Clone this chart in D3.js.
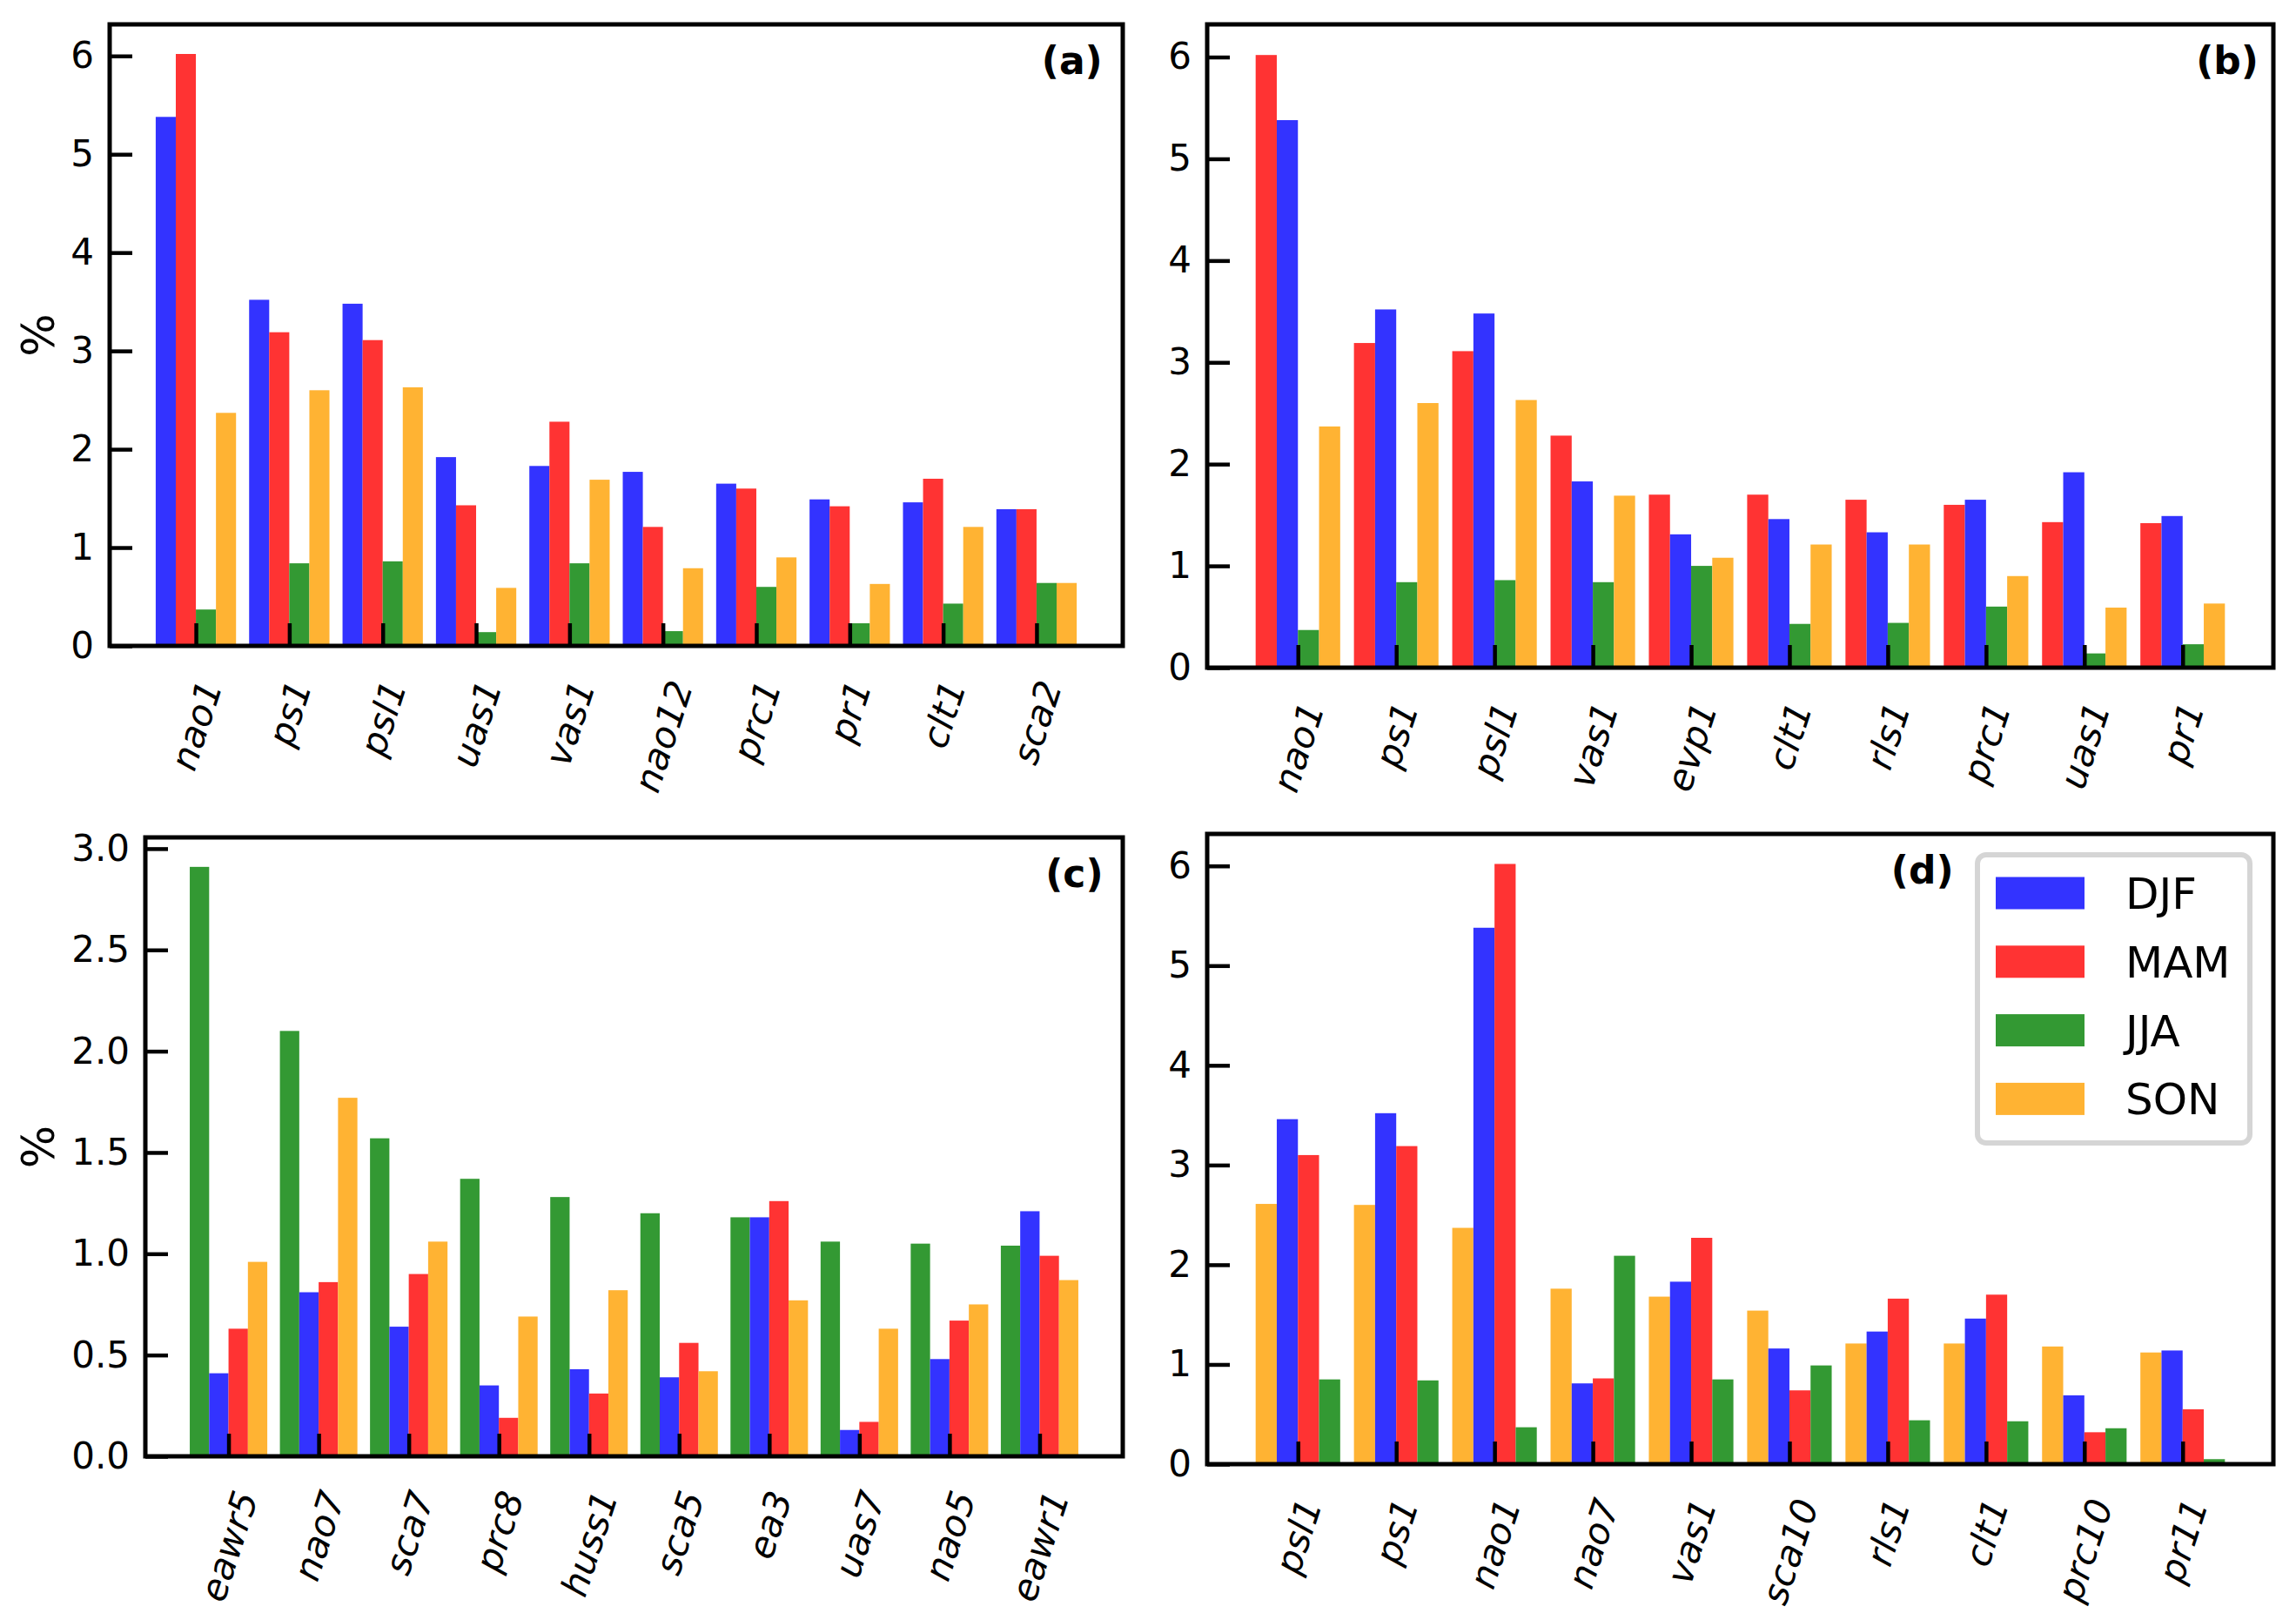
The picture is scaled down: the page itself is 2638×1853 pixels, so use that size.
<!DOCTYPE html>
<html><head><meta charset="utf-8">
<script src="https://cdn.jsdelivr.net/npm/d3@7"></script>
<style>
html,body{margin:0;padding:0;background:#fff;}
svg{display:block;font-family:"DejaVu Sans",sans-serif;}
</style></head>
<body>
<svg id="chart" width="2638" height="1853"></svg>
<script>
// ---------- DATA ----------
const seasons = ["DJF","MAM","JJA","SON"];
const seasonColors = ["#3333ff","#ff3333","#339933","#ffb333"];

// panel (a)
const catsA = ["nao1","ps1","psl1","uas1","vas1","nao12","prc1","pr1","clt1","sca2"];
const djfA = [5.38,3.52,3.48,1.92,1.83,1.77,1.65,1.49,1.46,1.39];
const mamA = [6.02,3.19,3.11,1.43,2.28,1.21,1.60,1.42,1.70,1.39];
const jjaA = [0.37,0.84,0.86,0.14,0.84,0.15,0.60,0.23,0.43,0.64];
const sonA = [2.37,2.60,2.63,0.59,1.69,0.79,0.90,0.63,1.21,0.64];

// panel (b)
const catsB = ["nao1","ps1","psl1","vas1","evp1","clt1","rls1","prc1","uas1","pr1"];
const djfB = [5.38,3.52,3.48,1.83,1.31,1.46,1.33,1.65,1.92,1.49];
const mamB = [6.02,3.19,3.11,2.28,1.70,1.70,1.65,1.60,1.43,1.42];
const jjaB = [0.37,0.84,0.86,0.84,1.00,0.43,0.44,0.60,0.14,0.23];
const sonB = [2.37,2.60,2.63,1.69,1.08,1.21,1.21,0.90,0.59,0.63];

// panel (c)
const catsC = ["eawr5","nao7","sca7","prc8","huss1","sca5","ea3","uas7","nao5","eawr1"];
const djfC = [0.41,0.81,0.64,0.35,0.43,0.39,1.18,0.13,0.48,1.21];
const mamC = [0.63,0.86,0.90,0.19,0.31,0.56,1.26,0.17,0.67,0.99];
const jjaC = [2.91,2.10,1.57,1.37,1.28,1.20,1.18,1.06,1.05,1.04];
const sonC = [0.96,1.77,1.06,0.69,0.82,0.42,0.77,0.63,0.75,0.87];

// panel (d)
const catsD = ["psl1","ps1","nao1","nao7","vas1","sca10","rls1","clt1","prc10","pr11"];
const djfD = [3.46,3.52,5.38,0.81,1.83,1.16,1.33,1.46,0.69,1.14];
const mamD = [3.10,3.19,6.02,0.86,2.27,0.74,1.66,1.70,0.32,0.55];
const jjaD = [0.85,0.84,0.37,2.09,0.85,0.99,0.44,0.43,0.36,0.05];
const sonD = [2.61,2.60,2.37,1.76,1.68,1.54,1.21,1.21,1.18,1.12];

// tick labels
const yTicksInt = [0,1,2,3,4,5,6];
const yTicksC = [0.0,0.5,1.0,1.5,2.0,2.5,3.0];
const panelLabels = ["(a)","(b)","(c)","(d)"];

// ---------- LAYOUT ----------
const svg = d3.select("#chart");
const barW = 0.215;
const spineW = 5;
const tickLen = 26, tickW = 4.5;
const fontSize = 42;
const rot = 72;

const panels = [
  {cats:catsA, vals:{DJF:djfA,MAM:mamA,JJA:jjaA,SON:sonA}, order:["DJF","MAM","JJA","SON"],
   box:{l:126,t:28,r:1290,b:742}, ticks:yTicksInt, fmt:d3.format("d"), label:panelLabels[0], labelFx:0.98, ylab:true},
  {cats:catsB, vals:{DJF:djfB,MAM:mamB,JJA:jjaB,SON:sonB}, order:["MAM","DJF","JJA","SON"],
   box:{l:1387,t:28,r:2612,b:767}, ticks:yTicksInt, fmt:d3.format("d"), label:panelLabels[1], labelFx:0.986, ylab:false},
  {cats:catsC, vals:{DJF:djfC,MAM:mamC,JJA:jjaC,SON:sonC}, order:["JJA","DJF","MAM","SON"],
   box:{l:167,t:962,r:1290,b:1673}, ticks:yTicksC, fmt:d3.format(".1f"), label:panelLabels[2], labelFx:0.98, ylab:true},
  {cats:catsD, vals:{DJF:djfD,MAM:mamD,JJA:jjaD,SON:sonD}, order:["SON","DJF","MAM","JJA"],
   box:{l:1387,t:958,r:2612,b:1682}, ticks:yTicksInt, fmt:d3.format("d"), label:panelLabels[3], labelFx:0.70, ylab:false, legend:true}
];

const colorOf = d3.scaleOrdinal().domain(seasons).range(seasonColors);

panels.forEach(p => {
  const n = p.cats.length;
  const lo = -2*barW, hi = (n-1) + 2*barW;
  const m = 0.05*(hi-lo);
  const x = d3.scaleLinear().domain([lo-m, hi+m]).range([p.box.l, p.box.r]);
  let maxV = 0;
  seasons.forEach(s => { maxV = Math.max(maxV, d3.max(p.vals[s])); });
  const y = d3.scaleLinear().domain([0, maxV*1.05]).range([p.box.b, p.box.t]);
  const g = svg.append("g");

  // bars
  p.order.forEach((s, k) => {
    g.append("g").selectAll("rect").data(p.vals[s]).join("rect")
      .attr("x", (d,i) => x(i + (k-2)*barW))
      .attr("width", (d,i) => x(i + (k-1)*barW) - x(i + (k-2)*barW))
      .attr("y", d => y(d))
      .attr("height", d => y(0) - y(d))
      .attr("fill", colorOf(s));
  });

  // y ticks (inward)
  const yAxis = d3.axisLeft(y).tickValues(p.ticks).tickFormat(p.fmt).tickSizeInner(-tickLen).tickSizeOuter(0).tickPadding(18);
  const ya = g.append("g").attr("transform", `translate(${p.box.l},0)`).call(yAxis);
  ya.select(".domain").remove();
  ya.selectAll("line").attr("stroke","#000").attr("stroke-width",tickW);
  ya.selectAll("text").attr("font-size",fontSize).attr("fill","#000").attr("font-family","DejaVu Sans");

  // x ticks (inward)
  const xAxis = d3.axisBottom(x).tickValues(d3.range(n)).tickFormat(i => p.cats[i]).tickSizeInner(-tickLen).tickSizeOuter(0);
  const xa = g.append("g").attr("transform", `translate(0,${p.box.b})`).call(xAxis);
  xa.select(".domain").remove();
  xa.selectAll("line").attr("stroke","#000").attr("stroke-width",tickW);
  const th = rot*Math.PI/180;
  xa.selectAll("text").each(function(i){
    const t = d3.select(this);
    t.attr("font-size",fontSize).attr("font-style","italic").attr("fill","#000")
     .attr("font-family","DejaVu Sans").attr("text-anchor","end").attr("dy","0.35em").attr("y",0);
    const L = this.getComputedTextLength();
    const h = fontSize*1.0;
    const px = x(i) + (L/2)*Math.cos(th);
    const topGap = 35;
    const py = topGap + (h/2)*Math.cos(th);
    t.attr("x",0).attr("transform", `translate(${px - x(i)},${py}) rotate(${-rot})`);
  });

  // spines
  g.append("rect").attr("x",p.box.l).attr("y",p.box.t)
    .attr("width",p.box.r-p.box.l).attr("height",p.box.b-p.box.t)
    .attr("fill","none").attr("stroke","#000").attr("stroke-width",spineW);

  // panel label
  g.append("text").attr("x", p.box.l + p.labelFx*(p.box.r-p.box.l)).attr("y", p.box.t + 57)
    .attr("text-anchor","end").attr("font-weight","bold").attr("font-size",44)
    .attr("font-family","DejaVu Sans").text(p.label);

  if (p.ylab) {
    g.append("text").attr("transform", `translate(62,${(p.box.t+p.box.b)/2}) rotate(-90)`)
      .attr("text-anchor","middle").attr("font-size",52).attr("font-family","DejaVu Sans").text("%");
  }

  if (p.legend) {
    const lg = g.append("g");
    lg.append("rect").attr("x",2272).attr("y",982).attr("width",313).attr("height",331)
      .attr("rx",10).attr("fill","#fff").attr("stroke","#d5d5d5").attr("stroke-width",6);
    seasons.forEach((s,k) => {
      const cy = 1026 + k*78.8;
      lg.append("rect").attr("x",2293).attr("y",cy-18.5).attr("width",102).attr("height",37).attr("fill",colorOf(s));
      lg.append("text").attr("x",2442).attr("y",cy).attr("dy","0.36em").attr("font-size",50)
        .attr("font-family","DejaVu Sans").text(s);
    });
  }
});
</script>
</body></html>
